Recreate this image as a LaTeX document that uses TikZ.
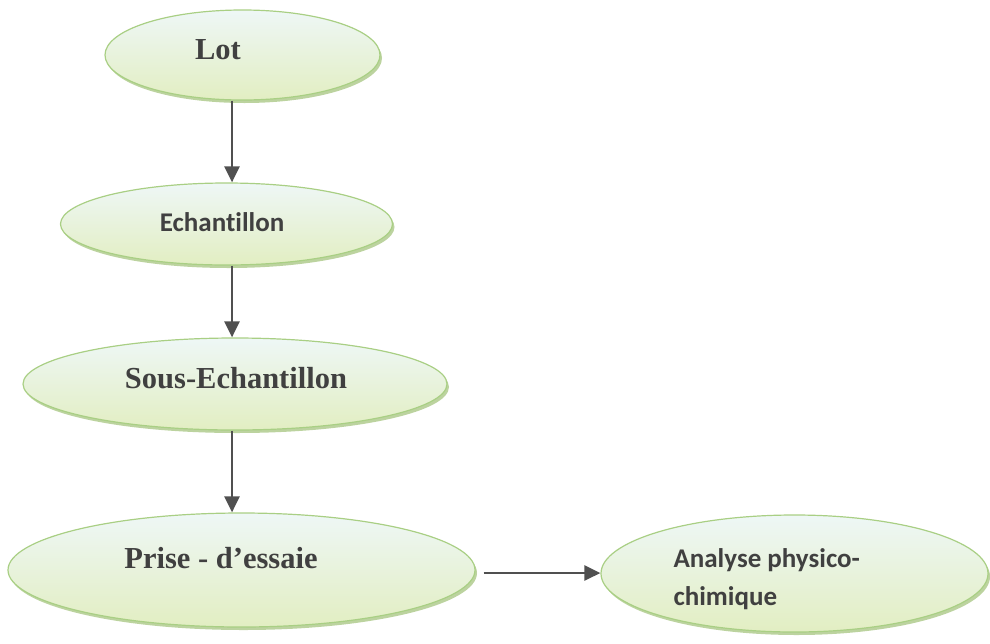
\documentclass[tikz,border=0pt]{standalone}
\usepackage{fontspec}
\setmainfont{Liberation Serif}
\newfontfamily\calibrilike[Ligatures=NoCommon]{Carlito}
\usetikzlibrary{arrows.meta,shapes.geometric,shadows,calc}
\definecolor{rimgreen}{HTML}{A9CF84}
\definecolor{shadegreen}{HTML}{98BC6C}
\definecolor{topfill}{HTML}{EEF7F6}
\definecolor{botfill}{HTML}{E2EEC2}
\definecolor{inkgray}{HTML}{404040}
\definecolor{arrowgray}{HTML}{505050}
\begin{document}
\begin{tikzpicture}[x=1pt,y=-1pt,
  bubble/.style={ellipse, draw=rimgreen, line width=1.2pt,
    top color=topfill, bottom color=botfill, inner sep=0pt,
    drop shadow={shadow xshift=2pt, shadow yshift=-3pt, fill=shadegreen, opacity=0.65}},
  serifbold/.style={font=\fontsize{30.5}{34}\selectfont\bfseries, text=inkgray},
  sansbold/.style={font=\calibrilike\fontsize{27}{38}\selectfont\bfseries, text=inkgray},
  flow/.style={draw=arrowgray, line width=2.7pt, -{Triangle[length=16pt,width=15pt]}}]
\useasboundingbox (0,0) rectangle (990,643);

% ellipses
\node[bubble, minimum width=275pt, minimum height=90pt] (lot) at (242.5,55) {};
\node[bubble, minimum width=332pt, minimum height=82pt] (ech) at (226.5,224) {};
\node[bubble, minimum width=424pt, minimum height=92pt] (sous) at (235,384) {};
\node[bubble, minimum width=467pt, minimum height=114pt] (prise) at (241.5,570) {};
\node[bubble, minimum width=387pt, minimum height=117pt] (ana) at (794.5,573.5) {};

% labels
\node[serifbold] (tlot) at (218,50) {Lot};
\node[sansbold] (tech) at (222,222) {Echantillon};
\node[serifbold] (tsous) at (236,378) {Sous-Echantillon};
\node[serifbold] (tprise) at (221,558) {Prise - d’essaie};
\node[sansbold, align=left, anchor=west] (tana) at (670,579) {Analyse physico-\\chimique};

% connectors
\coordinate (ax) at (232,0);
\draw[flow] (lot.south -| ax) -- (ech.north -| ax);
\draw[flow] (ech.south -| ax) -- (sous.north -| ax);
\draw[flow] (sous.south -| ax) -- (prise.north -| ax);
\coordinate (hstart) at ($(prise.east)+(8,3)$);
\draw[flow] (hstart) -- (hstart -| ana.west);
\end{tikzpicture}
\end{document}
